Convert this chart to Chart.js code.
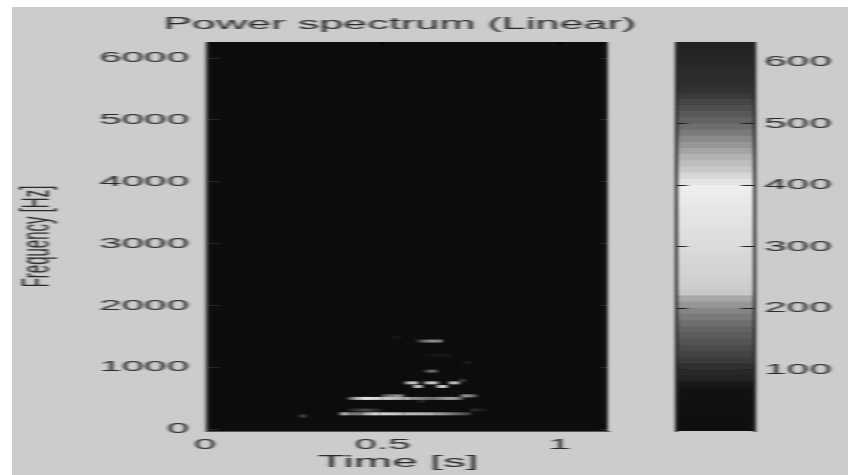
<!DOCTYPE html>
<html><head><meta charset="utf-8">
<script src="https://cdn.jsdelivr.net/npm/chart.js@4"></script>
<style>
html,body{margin:0;padding:0;background:#fff;overflow:hidden;width:848px;height:475px}
#bg{position:absolute;left:12px;top:7px;width:836px;height:468px;background:#cccccc}
.c{position:absolute;left:0;top:0;transform-origin:0 0;transform:scaleX(2.7);filter:blur(.5px)}
</style></head><body>
<div id="bg"></div>
<canvas id="spec" class="c" width="314" height="475"></canvas>
<canvas id="bar" class="c" width="314" height="475"></canvas>
<script>
const titleText = "Power spectrum (Linear)";
const xLabel = "Time [s]";
const yLabel = "Frequency [Hz]";
const timeTicks = [0, 0.5, 1];
const timeTickLabels = ["0", "0.5", "1"];
const freqTicks = [0, 1000, 2000, 3000, 4000, 5000, 6000];
const barTicks = [100, 200, 300, 400, 500, 600];

// Spectrogram ridges: frequency, then [time, grey level] knots along each ridge
const ridgeFreqs  = [246, 307, 307, 495, 537, 495, 537, 451, 747, 688, 747, 688, 747, 788, 936, 1423, 1487, 1192, 1074, 210];
const ridgeTimes  = [
  [.375,.39,.41,.44,.47,.49,.56,.65,.75],[.40,.45,.50],[.75,.80],[.40,.44,.50,.56],[.495,.53,.56],
  [.56,.58,.64,.70,.73],[.72,.75,.77],[.59,.62],[.56,.58,.60],[.585,.60,.615],[.615,.64,.66],
  [.65,.67,.685],[.685,.70,.72],[.72,.74],[.615,.64,.66],[.59,.63,.67],[.52,.55],[.60,.69],[.72,.75],[.26,.275,.29]
];
const ridgeLevels = [
  [50,210,120,130,225,215,190,170,60],[25,75,25],[50,14],[60,230,210,170],[60,150,130],
  [210,150,110,170,60],[130,150,30],[14,45],[90,220,190],[110,240,110],[110,225,110],
  [110,240,110],[110,225,110],[90,14],[30,125,30],[14,150,120],[14,30],[14,26],[14,36],[14,85,14]
];

// Colour bar: top edge value of each band and its grey level
const bandTops = [10,20,30,40,50,60,70,80,90,100,110,120,130,140,150,160,170,180,190,200,210,220,230,240,250,260,270,280,290,300,310,320,330,340,350,360,370,380,390,400,410,420,430,440,450,460,470,480,490,500,510,520,530,540,550,560,570,580,590,600,610,620,633];
const bandGreys = [15,15,15,16,16,17,18,24,36,40,48,60,68,76,84,92,100,110,122,134,150,168,200,206,208,210,212,214,216,218,220,222,224,226,228,230,232,234,236,238,228,215,200,190,178,165,150,138,122,110,98,88,78,70,58,50,46,44,42,40,38,36,34];

const grey = g => `rgb(${g},${g},${g})`;
const font = {family:"'Liberation Sans'", size:15};
const ink = "#2a2a2a";
const specCanvas = document.getElementById("spec");
const specCtx = specCanvas.getContext("2d");

const ridgeSets = ridgeFreqs.map((f,i)=>({
  type:"line",
  data: ridgeTimes[i].map(t=>({x:t,y:f})),
  borderWidth:3,
  pointRadius:0,
  borderCapStyle:"butt",
  borderColor: grey(ridgeLevels[i][0]),
  segment:{borderColor: ctx=>{
    const g=specCtx.createLinearGradient(ctx.p0.x,0,ctx.p1.x,0);
    g.addColorStop(0,grey(ridgeLevels[i][ctx.p0DataIndex]));
    g.addColorStop(1,grey(ridgeLevels[i][ctx.p1DataIndex]));
    return g;
  }}
}));

new Chart(specCanvas,{
  type:"line",
  data:{datasets:ridgeSets},
  options:{
    responsive:false,animation:false,devicePixelRatio:1,
    layout:{padding:{left:5,right:89,top:42,bottom:0}},
    plugins:{legend:{display:false},tooltip:{enabled:false},title:{display:false}},
    scales:{
      x:{type:"linear",min:0,max:1.135,
        afterFit:s=>{s.height=44;s.paddingLeft=0;s.paddingRight=0},
        afterBuildTicks:s=>{s.ticks=timeTicks.map(v=>({value:v}))},
        ticks:{font,color:ink,padding:5,maxRotation:0,autoSkip:false,callback:v=>timeTickLabels[timeTicks.indexOf(v)]},
        grid:{z:1,color:"#000",tickLength:0,drawTicks:false},border:{z:2,color:"#555",width:1,dash:[3,700]}},
      y:{type:"linear",min:-32,max:6262,
        afterFit:s=>{s.width=71},
        afterBuildTicks:s=>{s.ticks=freqTicks.map(v=>({value:v}))},
        ticks:{font,color:ink,padding:6,callback:v=>String(v)},
        grid:{z:1,color:"#262626",tickLength:0,drawTicks:false},border:{z:2,color:"#555",width:1,dash:[4,141,4,50]},
        title:{display:true,text:yLabel,font,color:ink,padding:{top:0,bottom:0}}}
    }
  },
  plugins:[{id:"plotBack",beforeDatasetsDraw(c){
    const a=c.chartArea,x=c.ctx;x.save();x.fillStyle="#0c0c0c";x.fillRect(a.left,a.top,a.width,a.height);x.restore();
  },afterDraw(c){
    const x=c.ctx;x.save();x.font="16px 'Liberation Sans'";x.fillStyle=ink;x.textAlign="center";x.textBaseline="bottom";
    x.fillText(titleText,148,c.chartArea.top-9);
    x.font="17px 'Liberation Sans'";x.textBaseline="middle";
    x.fillText(xLabel,147.4,462);x.restore();
  }}]
});

new Chart(document.getElementById("bar"),{
  type:"bar",
  data:{labels:[""],datasets:bandTops.map((t,i)=>({
    data:[[i?bandTops[i-1]:0,t]],
    backgroundColor:grey(bandGreys[i]),
    borderWidth:0,
    barPercentage:1,categoryPercentage:1,grouped:false
  }))},
  options:{
    responsive:false,animation:false,devicePixelRatio:1,
    layout:{padding:{left:250,right:0,top:42,bottom:44}},
    plugins:{legend:{display:false},tooltip:{enabled:false}},
    scales:{
      x:{display:false,offset:true,afterFit:s=>{s.height=0}},
      y:{position:"right",min:0,max:633,
        afterFit:s=>{s.width=314-279},
        afterBuildTicks:s=>{s.ticks=barTicks.map(v=>({value:v}))},
        ticks:{font,color:ink,padding:4},
        grid:{z:1,color:"#222",lineWidth:1,tickLength:0,drawTicks:false},
        border:{z:2,dash:[4.5,20,4.5,50],color:"#222",width:1}},
      yl:{position:"left",min:0,max:633,
        afterFit:s=>{s.width=0},
        ticks:{display:false},grid:{z:1,color:"rgba(0,0,0,0)",drawTicks:false},
        border:{z:2,color:"#222",width:1}}
    }
  }
});
</script>
</body></html>
